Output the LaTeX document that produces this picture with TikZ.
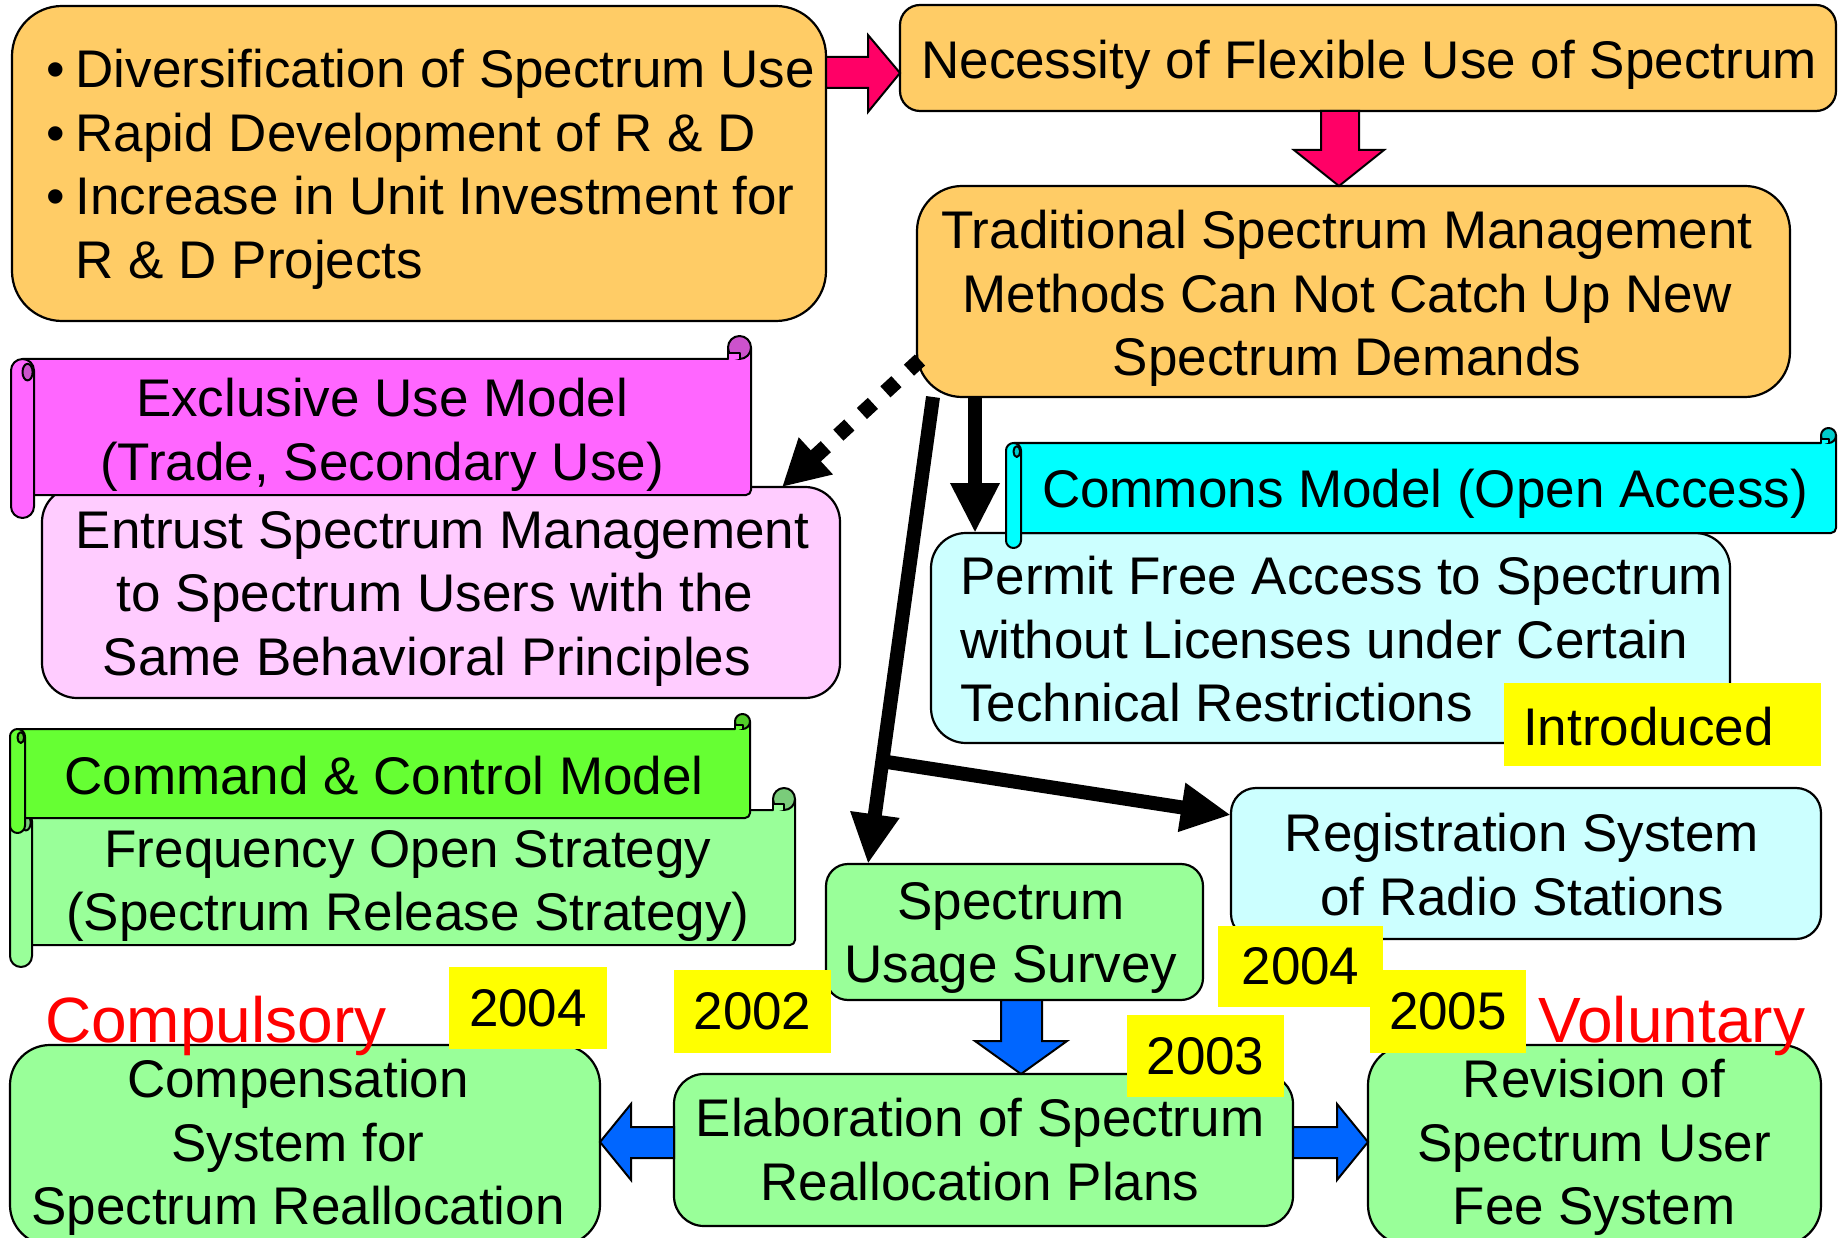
\documentclass[tikz,border=0pt]{standalone}
\usepackage{fontspec}
\setmainfont{Liberation Sans}
\usetikzlibrary{arrows.meta,calc}

\definecolor{orangeF}{HTML}{FFCC66}
\definecolor{pinkA}{HTML}{FF0066}
\definecolor{magF}{HTML}{FF66FF}
\definecolor{magD}{HTML}{CC52CC}
\definecolor{lpinkF}{HTML}{FFCCFF}
\definecolor{cyanF}{HTML}{00FFFF}
\definecolor{cyanD}{HTML}{00CCCC}
\definecolor{lcyanF}{HTML}{CCFFFF}
\definecolor{greenF}{HTML}{66FF33}
\definecolor{greenD}{HTML}{52CC29}
\definecolor{lgreenF}{HTML}{99FF99}
\definecolor{lgreenD}{HTML}{7ACC7A}
\definecolor{blueA}{HTML}{0066FF}
\definecolor{yellowF}{HTML}{FFFF00}
\definecolor{redT}{HTML}{FF0000}

\tikzset{
  shp/.style={draw=black, line width=2pt, line join=round},
  boxshape/.style={draw=black, line width=2.2pt, inner sep=0pt, outer sep=0pt},
  yearlabel/.style={fill=yellowF, draw=none, inner sep=0pt, outer sep=0pt,
    font=\fontsize{53}{63.5}\selectfont},
  txt/.style={font=\fontsize{53}{63.5}\selectfont, inner sep=0pt, align=center},
  txtl/.style={font=\fontsize{53}{63.5}\selectfont, inner sep=0pt, align=left},
  redlab/.style={font=\fontsize{64}{77}\selectfont, text=redT, inner sep=0pt},
  blockarr/.style={draw=black, line width=2pt, line join=miter},
  blk/.style={draw=black, line width=14pt, -{Triangle[length=50pt,width=46pt]}},
  dotarr/.style={draw=black, line width=15pt, dash pattern=on 15pt off 17pt,
    -{Triangle[length=46pt,width=47pt]}},
}

% #1 name, #2 x1, #3 y1, #4 x2, #5 y2, #6 fill, #7 corner radius
\newcommand\boxat[7]{%
  \node[boxshape, fill=#6, rounded corners=#7,
        minimum width={#4-#2}, minimum height={#5-#3}]
        (#1) at ({(#2+#4)/2},{-(#3+#5)/2}) {};}

% #1 L, #2 T, #3 R, #4 B, #5 roll size, #6 fill, #7 dark fill
\newcommand\hscroll[7]{%
  \draw[shp, fill=#6] ({#1+#5/2},{-(#2+#5)}) -- ({#3-#5},{-(#2+#5)})
     -- ({#3-#5},{-(#2+#5/2)}) -- ({#3},{-(#2+#5/2)})
     [rounded corners=5pt] -- ({#3},{-(#4-#5)}) -- ({#1+#5/2},{-(#4-#5)})
     [sharp corners] -- cycle;
  \draw[shp, fill=#7] ({#3-#5/2},{-(#2+#5/2)}) circle[radius={#5/2}];
  \draw[shp, fill=#6] ({#3-#5},{-(#2+#5)}) -- ({#3-#5},{-(#2+0.72*#5)})
     -- ({#3-#5/2},{-(#2+0.72*#5)}) -- ({#3-#5/2},{-(#2+#5)});
  \draw[shp, fill=#6] ({#1},{-(#2+1.5*#5)})
     arc[start angle=180, end angle=0, radius={#5/2}]
     -- ({#1+#5},{-(#4-#5/2)})
     arc[start angle=0, end angle=-180, radius={#5/2}] -- cycle;
  \draw[shp, fill=#7] ({#1+0.72*#5},{-(#2+1.57*#5)})
     ellipse[x radius={0.22*#5}, y radius={0.36*#5}];
}

\begin{document}
\begin{tikzpicture}[x=1pt, y=1pt]
\useasboundingbox (0,0) rectangle (1845,-1238);
\fill[white] (0,0) rectangle (1845,-1238);
\clip (0,0) rectangle (1845,-1238);

% ---------- top orange boxes ----------
\boxat{b1}{12}{6}{826}{321}{orangeF}{50pt}
\boxat{b2}{900}{5}{1836}{111}{orangeF}{20pt}
\boxat{b3}{917}{186}{1790}{397}{orangeF}{45pt}

\node[txtl, anchor=north west] (t1) at (46.5,-49)
  {\makebox[29pt][l]{\textbullet}Diversification of Spectrum Use\\
   \makebox[29pt][l]{\textbullet}Rapid Development of R \& D\\
   \makebox[29pt][l]{\textbullet}Increase in Unit Investment for\\
   \hspace*{29pt}R \& D Projects};
\node[txt, anchor=north] (t2) at (1369,-40) {Necessity of Flexible Use of Spectrum};
\node[txt, anchor=north] (t3) at (1347,-210)
  {Traditional Spectrum Management\\Methods Can Not Catch Up New\\Spectrum Demands};

% pink block arrows
\draw[blockarr, fill=pinkA] (b1.east |- 0,-57) -- (868,-57) -- (868,-35)
  -- (b2.west |- 0,-73) -- (868,-112) -- (868,-88) -- (b1.east |- 0,-88) -- cycle;
\draw[blockarr, fill=pinkA] (1321,0 |- b2.south) -- (1321,-150) -- (1294,-150)
  -- (1339,0 |- b3.north) -- (1384,-150) -- (1359,-150) -- (1359,0 |- b2.south) -- cycle;

% ---------- exclusive use ----------
\boxat{b4}{42}{487}{840}{698}{lpinkF}{35pt}
\hscroll{11}{336}{751}{518}{23}{magF}{magD}
\node[txt, anchor=north] (t4) at (382,-378) {Exclusive Use Model\\(Trade, Secondary Use)};
\node[txt, anchor=north] (t5) at (435,-511)
  {\hspace*{15pt}Entrust Spectrum Management\\to Spectrum Users with the\\Same Behavioral Principles\hspace*{16pt}};

% ---------- commons ----------
\boxat{b5}{931}{533}{1730}{743}{lcyanF}{35pt}
\hscroll{1006}{428}{1836}{548}{15}{cyanF}{cyanD}
\node[txt, anchor=north] (t6) at (1425,-469) {Commons Model (Open Access)};
\node[txtl, anchor=north west] (t7) at (960,-556)
  {Permit Free Access to Spectrum\\without Licenses under Certain\\Technical Restrictions};
\node[yearlabel, minimum width=317, minimum height=83] (intro) at (1662.5,-724.5) {};
\node[txt, anchor=base west] (t8) at (1523,-745) {Introduced};

% ---------- command & control ----------
\hscroll{10}{788}{795}{967}{22}{lgreenF}{lgreenD}
\hscroll{10}{714}{750}{833}{15}{greenF}{greenD}
\node[txt, anchor=north] (t9) at (384,-756) {Command \& Control Model};
\node[txt, anchor=north] (t10) at (408,-830)
  {Frequency Open Strategy\\(Spectrum Release Strategy)};

% ---------- lower boxes ----------
\boxat{b6}{1231}{788}{1821}{939}{lcyanF}{25pt}
\boxat{b7}{826}{864}{1203}{1000}{lgreenF}{22pt}
\boxat{b8}{674}{1074}{1293}{1226}{lgreenF}{30pt}
\boxat{b9}{10}{1045}{600}{1245}{lgreenF}{40pt}
\boxat{b10}{1368}{1045}{1821}{1245}{lgreenF}{40pt}

\node[txt, anchor=north] (t11) at (1522,-813) {Registration System\\of Radio Stations};
\node[txt, anchor=north] (t12) at (1011,-882) {Spectrum\\Usage Survey};
\node[txt, anchor=north] (t13) at (980,-1098) {Elaboration of Spectrum\\Reallocation Plans};
\node[txt, anchor=north] (t14) at (298,-1059) {Compensation\\System for\\Spectrum Reallocation};
\node[txt, anchor=north] (t15) at (1594,-1059) {Revision of\\Spectrum User\\Fee System};

% blue block arrows
\draw[blockarr, fill=blueA] (1001,0 |- b7.south) -- (1001,-1041) -- (975,-1041)
  -- (1021,0 |- b8.north) -- (1067,-1041) -- (1042,-1041) -- (1042,0 |- b7.south) -- cycle;
\draw[blockarr, fill=blueA] (b8.west |- 0,-1127) -- (631,-1127) -- (631,-1104)
  -- (b9.east |- 0,-1142) -- (631,-1180) -- (631,-1158) -- (b8.west |- 0,-1158) -- cycle;
\draw[blockarr, fill=blueA] (b8.east |- 0,-1127) -- (1337,-1127) -- (1337,-1104)
  -- (b10.west |- 0,-1142) -- (1337,-1180) -- (1337,-1158) -- (b8.east |- 0,-1158) -- cycle;

% year labels
\node[yearlabel, minimum width=158, minimum height=82] (y04a) at (528,-1008) {2004};
\node[yearlabel, minimum width=157, minimum height=83] (y02) at (752.5,-1011.5) {2002};
\node[yearlabel, minimum width=165, minimum height=81] (y04b) at (1300.5,-966.5) {2004};
\node[yearlabel, minimum width=157, minimum height=82] (y03) at (1205.5,-1056) {2003};
\node[yearlabel, minimum width=156, minimum height=83] (y05) at (1448,-1011.5) {2005};

% red labels
\node[redlab, anchor=base west] (comp) at (45,-1042) {Compulsory};
\node[redlab, anchor=base west] (vol) at (1538,-1042) {Voluntary};

% ---------- black arrows ----------
\coordinate (ds) at ($(b3.south west)+(3,37)$);
\draw[dotarr] (ds) -- (782,0 |- b4.north);
\draw[blk] (b3.south -| 975,0) -- (975,0 |- b5.north);
\coordinate (ls) at (b3.south -| 933,0);
\coordinate (le) at (868,0 |- b7.north);
\coordinate (j) at ($(ls)!0.78!(le)$);
\draw[blk] (ls) -- (le);
\draw[blk] (j) -- (b6.west |- 0,-815);
\end{tikzpicture}
\end{document}
